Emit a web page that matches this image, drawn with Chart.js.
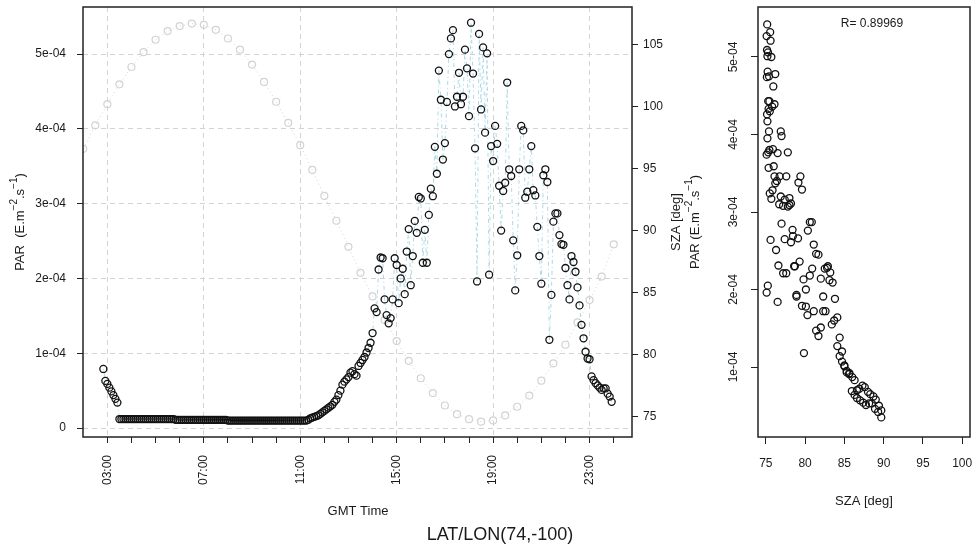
<!DOCTYPE html>
<html>
<head>
<meta charset="utf-8">
<title>PAR / SZA</title>
<script src="https://cdn.jsdelivr.net/npm/chart.js@4.4.0/dist/chart.umd.min.js"></script>
<style>
  html, body { margin: 0; padding: 0; background: #fff; }
  #wrap { position: relative; width: 977px; height: 550px; overflow: hidden; }
  canvas { position: absolute; top: 0; }
  #timeChart { left: 0; }
  #szaChart { left: 680px; }
</style>
</head>
<body>
<div id="wrap">
  <canvas id="timeChart" width="700" height="550"></canvas>
  <canvas id="szaChart" width="330" height="550"></canvas>
</div>
<script>
// PAR, 5-minute samples from 02:50 to 23:55 GMT, in units of 1e-04 E.m-2.s-1
var parStartHour = 2 + 50 / 60;
var parStepHour = 5 / 60;
var parValues = [
  // 02:50 - 03:25
  0.79, 0.63, 0.59, 0.54, 0.49, 0.44, 0.39, 0.34,
  // 03:30 - 04:25
  0.12, 0.12, 0.12, 0.12, 0.12, 0.12, 0.12, 0.12, 0.12, 0.12, 0.12, 0.12,
  // 04:30 - 05:25
  0.12, 0.12, 0.12, 0.12, 0.12, 0.12, 0.12, 0.12, 0.12, 0.12, 0.12, 0.12,
  // 05:30 - 06:25
  0.12, 0.12, 0.12, 0.12, 0.11, 0.11, 0.11, 0.11, 0.11, 0.11, 0.11, 0.11,
  // 06:30 - 07:25
  0.11, 0.11, 0.11, 0.11, 0.11, 0.11, 0.11, 0.11, 0.11, 0.11, 0.11, 0.11,
  // 07:30 - 08:25
  0.11, 0.11, 0.11, 0.11, 0.11, 0.11, 0.10, 0.10, 0.10, 0.10, 0.10, 0.10,
  // 08:30 - 09:25
  0.10, 0.10, 0.10, 0.10, 0.10, 0.10, 0.10, 0.10, 0.10, 0.10, 0.10, 0.10,
  // 09:30 - 10:25
  0.10, 0.10, 0.10, 0.10, 0.10, 0.10, 0.10, 0.10, 0.10, 0.10, 0.10, 0.10,
  // 10:30 - 11:15
  0.10, 0.10, 0.10, 0.10, 0.10, 0.10, 0.10, 0.10, 0.10, 0.10,
  // 11:20 - 11:55
  0.11, 0.13, 0.14, 0.15, 0.16, 0.17, 0.19, 0.21,
  // 12:00 - 12:55
  0.23, 0.25, 0.27, 0.29, 0.31, 0.35, 0.38, 0.44, 0.50, 0.58, 0.62, 0.65,
  // 13:00 - 13:55
  0.68, 0.74, 0.76, 0.72, 0.70, 0.83, 0.87, 0.91, 0.95, 1.01, 1.07, 1.14,
  // 14:00 - 14:55
  1.27, 1.60, 1.55, 2.12, 2.28, 2.27, 1.72, 1.51, 1.40, 1.47, 1.72, 2.27,
  // 15:00 - 15:55
  2.18, 1.67, 2.00, 2.13, 1.79, 2.36, 2.66, 1.91, 2.30, 2.77, 2.61, 3.09,
  // 16:00 - 16:55
  3.07, 2.21, 2.65, 2.21, 2.85, 3.20, 3.10, 3.76, 3.40, 4.78, 4.39, 3.59,
  // 17:00 - 17:55
  3.81, 4.36, 5.00, 5.21, 5.32, 4.30, 4.43, 4.75, 4.33, 4.43, 5.06, 4.81,
  // 18:00 - 18:55
  4.17, 5.42, 4.74, 3.74, 1.96, 5.27, 4.26, 5.09, 3.95, 5.01, 2.05, 3.77,
  // 19:00 - 19:55
  3.57, 4.04, 3.80, 3.24, 2.64, 3.17, 3.28, 4.62, 3.46, 3.37, 2.51, 1.84,
  // 20:00 - 20:55
  2.31, 3.46, 4.04, 3.98, 3.08, 3.16, 3.46, 3.77, 3.18, 3.11, 2.69, 2.30,
  // 21:00 - 21:55
  1.93, 3.38, 3.46, 3.29, 1.18, 1.78, 2.76, 2.87, 2.87, 2.58, 2.46, 2.45,
  // 22:00 - 22:55
  2.14, 1.91, 1.72, 2.30, 2.22, 2.09, 1.88, 1.64, 1.38, 1.20, 1.02, 0.93,
  // 23:00 - 23:55
  0.92, 0.69, 0.64, 0.60, 0.57, 0.54, 0.51, 0.53, 0.53, 0.46, 0.42, 0.35
];

// solar zenith angle [deg], every 30 min from 02:00 to 24:00
var szaStartHour = 2;
var szaStepHour = 0.5;
var szaValues = [
  96.6, 98.5, 100.2, 101.8, 103.2, 104.4, 105.4, 106.1, 106.5, 106.7,
  106.6, 106.2, 105.5, 104.6, 103.4, 102.0, 100.4, 98.7, 96.9, 94.9,
  92.8, 90.8, 88.7, 86.6, 84.7, 82.8, 81.1, 79.5, 78.1, 76.9,
  75.9, 75.2, 74.8, 74.6, 74.7, 75.1, 75.8, 76.7, 77.9, 79.3,
  80.8, 82.6, 84.4, 86.3, 88.9
];

// SZA at each PAR sample with the sun above 90 deg, 12:35 - 23:55
var matchFirstIndex = 117;
var szaMatched = [
  89.7, 89.4, 89.0, 88.7, 88.3,
  88.0, 87.6, 87.3, 86.9, 86.6, 86.3, 86.0, 85.6, 85.3, 85.0, 84.7, 84.4,
  84.1, 83.7, 83.4, 83.1, 82.8, 82.5, 82.3, 82.0, 81.7, 81.4, 81.1, 80.9,
  80.6, 80.3, 80.1, 79.8, 79.6, 79.3, 79.1, 78.9, 78.6, 78.4, 78.2, 78.0,
  77.8, 77.6, 77.4, 77.2, 77.0, 76.9, 76.7, 76.5, 76.4, 76.2, 76.1, 76.0,
  75.9, 75.8, 75.7, 75.6, 75.55, 75.5, 75.45, 75.4, 75.35, 75.3, 75.27, 75.23,
  75.2, 75.17, 75.13, 75.1, 75.1, 75.1, 75.15, 75.15, 75.2, 75.2, 75.25, 75.3,
  75.35, 75.4, 75.45, 75.5, 75.6, 75.7, 75.85, 75.95, 76.1, 76.2, 76.3, 76.5,
  76.6, 76.75, 76.9, 77.0, 77.2, 77.4, 77.6, 77.8, 78.0, 78.2, 78.45, 78.7,
  78.9, 79.15, 79.4, 79.6, 79.85, 80.1, 80.35, 80.6, 80.85, 81.1, 81.4, 81.7,
  82.0, 82.3, 82.6, 82.9, 83.2, 83.5, 83.8, 84.1, 84.4, 84.7, 85.0, 85.3,
  85.65, 85.95, 86.3, 86.6, 87.0, 87.4, 87.75, 88.15, 88.5, 88.9, 89.3, 89.7
];

var hourTicks = [3, 4, 5, 6, 7, 8, 9, 10, 11, 12, 13, 14, 15, 16, 17, 18, 19, 20, 21, 22, 23, 24];
var hourLabelTicks = [3, 7, 11, 15, 19, 23];
var parTicks = [0, 1, 2, 3, 4, 5];
var szaTicks = [75, 80, 85, 90, 95, 100, 105];
var szaScatterTicks = [75, 80, 85, 90, 95, 100];
var corrText = 'R= 0.89969';
var siteTitle = 'LAT/LON(74,-100)';

var FONT = '"Liberation Sans", Arial, sans-serif';
var TEXT = '#1a1a1a';
var AXIS = '#222';
var GRID = '#d3d3d3';

var parSeries = parValues.map(function (v, i) {
  return { x: parStartHour + i * parStepHour, y: v };
});
var szaSeries = szaValues.map(function (v, i) {
  return { x: szaStartHour + i * szaStepHour, y: v };
});
var scatterSeries = szaMatched.map(function (s, i) {
  return { x: s, y: parValues[matchFirstIndex + i] };
});

function fixedTicks(list) {
  return function (scale) {
    scale.ticks = list.map(function (v) { return { value: v }; });
  };
}
// pin an axis box to a fixed size and drop the label overflow padding
function fixedSize(w, h) {
  return function (s) {
    if (w) s.width = w;
    if (h) s.height = h;
    s.paddingTop = s.paddingBottom = s.paddingLeft = s.paddingRight = 0;
  };
}
function sciLabel(v) {
  return v === 0 ? '0' : v + 'e-04';
}
function hh(v) {
  return (v < 10 ? '0' : '') + v + ':00';
}

// rotated axis title with superscript pieces
function rotatedLabel(ctx, parts, cx, cy, size) {
  var sup = Math.round(size * 0.75);
  ctx.save();
  ctx.translate(cx, cy);
  ctx.rotate(-Math.PI / 2);
  ctx.fillStyle = TEXT;
  ctx.textBaseline = 'middle';
  ctx.textAlign = 'left';
  var total = 0;
  var widths = parts.map(function (p) {
    ctx.font = (p[1] ? sup : size) + 'px ' + FONT;
    var w = ctx.measureText(p[0]).width;
    total += w;
    return w;
  });
  var x = -total / 2;
  parts.forEach(function (p, i) {
    ctx.font = (p[1] ? sup : size) + 'px ' + FONT;
    ctx.fillText(p[0], x, p[1] ? -size * 0.45 : 0);
    x += widths[i];
  });
  ctx.restore();
}

function text(ctx, str, x, y, size, align) {
  ctx.save();
  ctx.font = size + 'px ' + FONT;
  ctx.fillStyle = TEXT;
  ctx.textAlign = align || 'center';
  ctx.textBaseline = 'middle';
  ctx.fillText(str, x, y);
  ctx.restore();
}

var frame = {
  id: 'frame',
  afterDatasetsDraw: function (chart) {
    var a = chart.chartArea, ctx = chart.ctx;
    ctx.save();
    ctx.strokeStyle = AXIS;
    ctx.lineWidth = 1.5;
    ctx.strokeRect(a.left, a.top, a.right - a.left, a.bottom - a.top);
    ctx.restore();
  }
};

var timeLabels = {
  id: 'timeLabels',
  afterDraw: function (chart) {
    var ctx = chart.ctx;
    rotatedLabel(ctx, [['PAR  (E.m', false], ['\u22122', true], ['.s', false], ['\u22121', true], [')', false]], 20, 222, 13);
    rotatedLabel(ctx, [['SZA [deg]', false]], 676, 222, 13);
    text(ctx, 'GMT Time', 358, 511, 13);
    text(ctx, siteTitle, 500, 535, 18);
  }
};

var szaLabels = {
  id: 'szaLabels',
  afterDraw: function (chart) {
    var ctx = chart.ctx, y = chart.scales.y;
    parTicks.forEach(function (v) {
      if (v < y.min || v > y.max) return;
      rotatedLabel(ctx, [[sciLabel(v), false]], 54, y.getPixelForValue(v), 12);
    });
    rotatedLabel(ctx, [['PAR (E.m', false], ['\u22122', true], ['.s', false], ['\u22121', true], [')', false]], 15, 222, 13);
    text(ctx, 'SZA [deg]', 184, 501, 13);
    text(ctx, corrText, 192, 24, 12);
  }
};

Chart.defaults.font.family = FONT;
Chart.defaults.color = TEXT;

new Chart(document.getElementById('timeChart'), {
  type: 'line',
  data: {
    datasets: [{
      label: 'PAR',
      data: parSeries,
      yAxisID: 'y',
      borderColor: '#add8e6',
      borderWidth: 1,
      borderDash: [1, 3, 4, 3],
      tension: 0,
      pointStyle: 'circle',
      pointRadius: 3.5,
      pointBorderWidth: 1.3,
      pointBorderColor: '#111',
      pointBackgroundColor: 'rgba(0,0,0,0)'
    }, {
      label: 'SZA',
      data: szaSeries,
      yAxisID: 'ySza',
      borderColor: GRID,
      borderWidth: 1,
      borderDash: [1, 3],
      tension: 0,
      pointStyle: 'circle',
      pointRadius: 3.5,
      pointBorderWidth: 1.2,
      pointBorderColor: GRID,
      pointBackgroundColor: 'rgba(0,0,0,0)'
    }]
  },
  options: {
    responsive: false,
    animation: false,
    events: [],
    layout: { padding: { top: 7, left: 0, right: 0, bottom: 0 } },
    plugins: { legend: { display: false }, tooltip: { enabled: false } },
    scales: {
      x: {
        type: 'linear',
        min: 1.99,
        max: 24.76,
        afterBuildTicks: fixedTicks(hourTicks),
        afterFit: fixedSize(0, 113),
        ticks: {
          autoSkip: false,
          minRotation: 90,
          maxRotation: 90,
          padding: 12,
          font: { size: 12 },
          callback: function (v) { return hourLabelTicks.indexOf(v) >= 0 ? hh(v) : ''; }
        },
        grid: {
          color: function (c) { return c.tick && hourLabelTicks.indexOf(c.tick.value) >= 0 ? GRID : 'rgba(0,0,0,0)'; },
          lineWidth: 1,
          tickColor: AXIS,
          tickLength: 6
        },
        border: { display: false, dash: [5, 4] }
      },
      y: {
        type: 'linear',
        position: 'left',
        min: -0.12,
        max: 5.63,
        afterBuildTicks: fixedTicks(parTicks),
        afterFit: fixedSize(83, 0),
        ticks: { padding: 11, font: { size: 12 }, callback: sciLabel },
        grid: { color: GRID, lineWidth: 1, tickColor: AXIS, tickLength: 6 },
        border: { display: false, dash: [5, 4] }
      },
      ySza: {
        type: 'linear',
        position: 'right',
        min: 73.36,
        max: 108.04,
        afterBuildTicks: fixedTicks(szaTicks),
        afterFit: fixedSize(68, 0),
        ticks: { padding: 5, font: { size: 12 } },
        grid: { drawOnChartArea: false, tickColor: AXIS, tickLength: 6 },
        border: { display: false }
      }
    }
  },
  plugins: [frame, timeLabels]
});

new Chart(document.getElementById('szaChart'), {
  type: 'scatter',
  data: {
    datasets: [{
      label: 'PAR vs SZA',
      data: scatterSeries,
      showLine: false,
      pointStyle: 'circle',
      pointRadius: 3.5,
      pointBorderWidth: 1.3,
      pointBorderColor: '#111',
      pointBackgroundColor: 'rgba(0,0,0,0)'
    }]
  },
  options: {
    responsive: false,
    animation: false,
    events: [],
    layout: { padding: { top: 7, left: 0, right: 40, bottom: 0 } },
    plugins: { legend: { display: false }, tooltip: { enabled: false } },
    scales: {
      x: {
        type: 'linear',
        min: 74,
        max: 101,
        afterBuildTicks: fixedTicks(szaScatterTicks),
        afterFit: fixedSize(0, 113),
        ticks: { padding: 12, font: { size: 12 }, maxRotation: 0, autoSkip: false },
        grid: { drawOnChartArea: false, tickColor: AXIS, tickLength: 7 },
        border: { display: false }
      },
      y: {
        type: 'linear',
        min: 0.097,
        max: 5.645,
        afterBuildTicks: fixedTicks(parTicks.slice(1)),
        afterFit: fixedSize(78, 0),
        ticks: { color: 'rgba(0,0,0,0)', callback: sciLabel },
        grid: { drawOnChartArea: false, tickColor: AXIS, tickLength: 7 },
        border: { display: false }
      }
    }
  },
  plugins: [frame, szaLabels]
});
</script>
</body>
</html>
